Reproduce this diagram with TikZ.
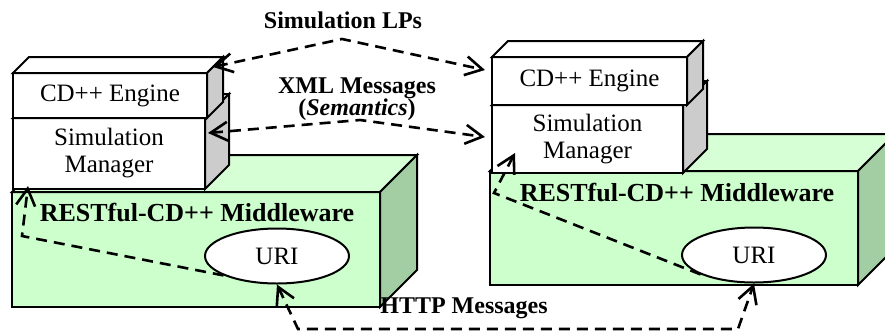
\documentclass[tikz,border=0pt]{standalone}
\usepackage{fontspec}
\setmainfont{Liberation Serif}
\usetikzlibrary{arrows.meta,shapes.geometric}
\definecolor{mwfront}{RGB}{204,255,204}
\definecolor{mwtop}{RGB}{214,255,214}
\definecolor{mwside}{RGB}{163,206,163}
\definecolor{boxside}{RGB}{204,204,204}
\begin{document}
\begin{tikzpicture}[x=0.5pt, y=-0.5pt,
  face/.style={draw, line width=1pt, fill=white, inner sep=0pt, outer sep=0pt, align=center, font=\fontsize{12.5}{13.5}\selectfont},
  mwface/.style={face, fill=mwfront},
  topface/.style={draw, line width=1pt, fill=white},
  sideface/.style={draw, line width=1pt, fill=boxside},
  mwtopface/.style={draw, line width=1pt, fill=mwtop},
  mwsideface/.style={draw, line width=1pt, fill=mwside},
  mwlabel/.style={inner sep=0pt, font=\fontsize{13}{14}\selectfont\bfseries},
  uri/.style={ellipse, draw, line width=1pt, fill=white, inner sep=0pt, minimum width=72pt, minimum height=27.5pt, font=\fontsize{12.5}{13.5}\selectfont},
  lbl/.style={inner sep=0pt, align=center, font=\fontsize{12}{11}\selectfont\bfseries},
  msg/.style={line width=1.3pt, dash pattern=on 5.5pt off 3.5pt, >={Straight Barb[length=8.5pt,width=9.5pt]}}]
\clip (0,0) rectangle (885,333);
\node[mwface, minimum width=184pt, minimum height=57.5pt] (mwL) at (196,249.5) {};
\draw[mwtopface] (mwL.north west) -- ++(37,-37) -- ([shift={(37,-37)}]mwL.north east) -- (mwL.north east) -- cycle;
\draw[mwsideface] (mwL.north east) -- ++(37,-37) -- ([shift={(37,-37)}]mwL.south east) -- (mwL.south east) -- cycle;
\node[mwlabel] (mwTextL) at ([xshift=0.5pt, yshift=-10.5pt]mwL.north) {RESTful-CD++ Middleware};
\node[uri] (uriL) at (277,256) {URI};
\node[face, minimum width=96pt, minimum height=35.5pt] (mgrL) at (109,153.5) {Simulation\\Manager};
\draw[topface] (mgrL.north west) -- ++(24,-24) -- ([shift={(24,-24)}]mgrL.north east) -- (mgrL.north east) -- cycle;
\draw[sideface] (mgrL.north east) -- ++(24,-24) -- ([shift={(24,-24)}]mgrL.south east) -- (mgrL.south east) -- cycle;
\node[face, minimum width=97pt, minimum height=22.5pt] (engL) at (110,95.5) {CD++ Engine};
\draw[topface] (engL.north west) -- ++(16,-16) -- ([shift={(16,-16)}]engL.north east) -- (engL.north east) -- cycle;
\draw[sideface] (engL.north east) -- ++(16,-16) -- ([shift={(16,-16)}]engL.south east) -- (engL.south east) -- cycle;
\node[mwface, minimum width=184pt, minimum height=57pt] (mwR) at (674,228) {};
\draw[mwtopface] (mwR.north west) -- ++(37,-37) -- ([shift={(37,-37)}]mwR.north east) -- (mwR.north east) -- cycle;
\draw[mwsideface] (mwR.north east) -- ++(37,-37) -- ([shift={(37,-37)}]mwR.south east) -- (mwR.south east) -- cycle;
\node[mwlabel] (mwTextR) at ([xshift=1.5pt, yshift=-11pt]mwR.north) {RESTful-CD++ Middleware};
\node[uri] (uriR) at (754,255) {URI};
\node[face, minimum width=95.5pt, minimum height=34pt] (mgrR) at (587.5,139) {Simulation\\Manager};
\draw[topface] (mgrR.north west) -- ++(24,-24) -- ([shift={(24,-24)}]mgrR.north east) -- (mgrR.north east) -- cycle;
\draw[sideface] (mgrR.north east) -- ++(24,-24) -- ([shift={(24,-24)}]mgrR.south east) -- (mgrR.south east) -- cycle;
\node[face, minimum width=97.5pt, minimum height=24pt] (engR) at (589.5,81) {CD++ Engine};
\draw[topface] (engR.north west) -- ++(16,-16) -- ([shift={(16,-16)}]engR.north east) -- (engR.north east) -- cycle;
\draw[sideface] (engR.north east) -- ++(16,-16) -- ([shift={(16,-16)}]engR.south east) -- (engR.south east) -- cycle;
\node[lbl] (lpText) at (343,20) {Simulation LPs};
\node[lbl] (xmlText) at (357,99) {XML Messages\\(\textit{Semantics})};
\node[lbl] (httpText) at (464,308) {HTTP Messages};
\coordinate (lpTop) at (342,39);
\coordinate (xmlTop) at (360,120);
\coordinate (httpL) at (298,329);
\coordinate (httpR) at (738,329);
\coordinate (bendL) at (22,236);
\coordinate (bendR) at (494,193);
\draw[msg, <->] ([shift={(6,-6)}]engL.north east) -- (lpTop) -- ([shift={(-7,-11)}]engR.west);
\draw[msg, <->] ([shift={(3,15)}]mgrL.north east) -- (xmlTop) -- ([shift={(-7,-2)}]mgrR.west);
\draw[msg, <->] (uriL.south) -- (httpL) -- (httpR) -- (uriR.south);
\draw[msg, ->] (uriL.200) -- (bendL) -- ([shift={(15,-3)}]mgrL.south west);
\draw[msg, ->] (uriR.200) -- (bendR) -- ([shift={(23,-20)}]mgrR.south west);
\end{tikzpicture}
\end{document}
